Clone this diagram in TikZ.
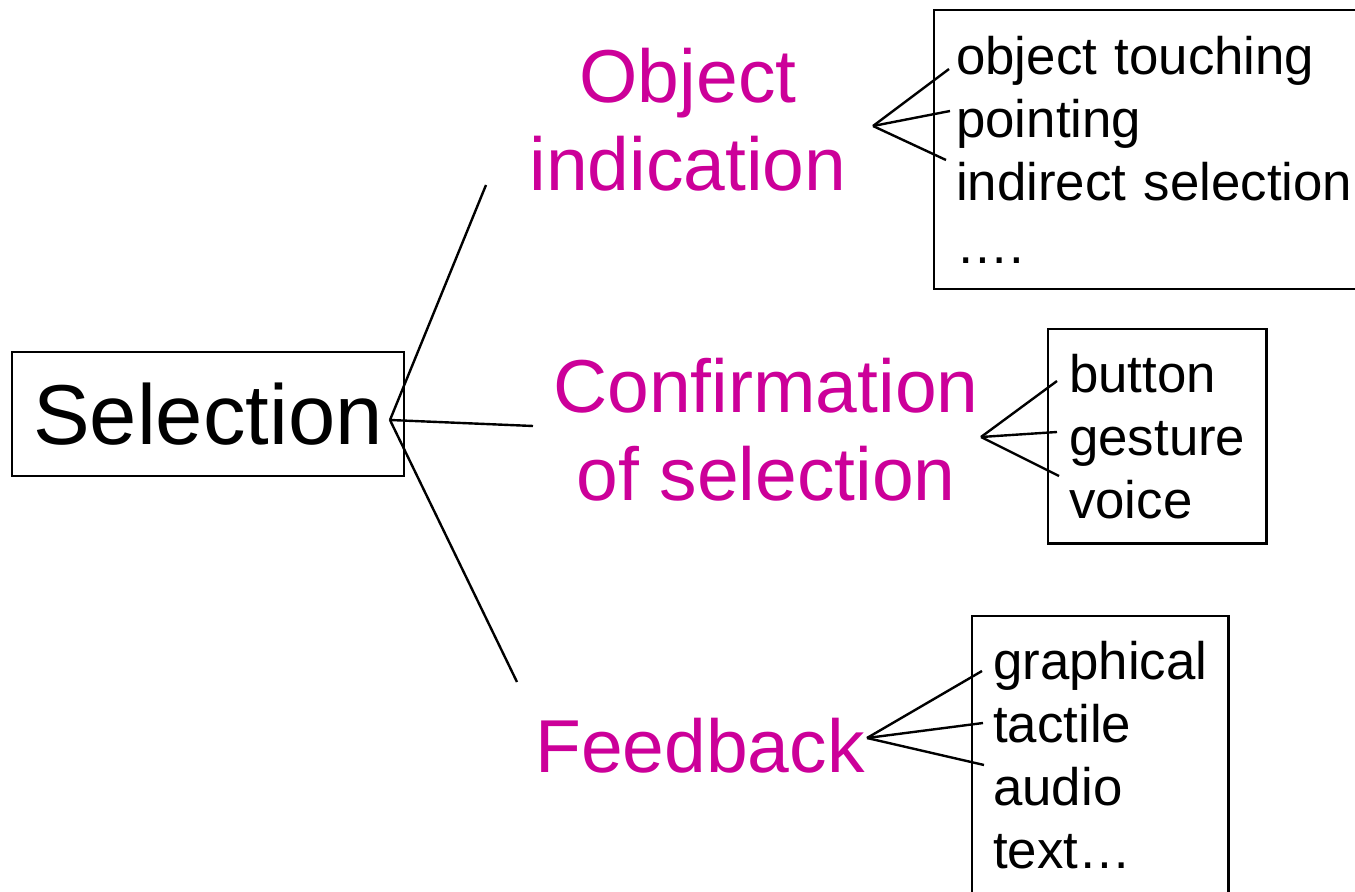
\documentclass[tikz,border=0pt]{standalone}
\usepackage{fontspec}
\setmainfont{Liberation Sans}
\usepackage{xcolor}
\usepackage{tikz}
\definecolor{headmag}{RGB}{204,0,153}

\begin{document}
\begin{tikzpicture}[
  x=0.5pt, y=-0.5pt,
  topbox/.style={draw, line width=1.2pt, minimum width=196pt, minimum height=62pt, inner sep=0pt, font=\fontsize{42.5}{50}\selectfont},
  branch/.style={text=headmag, align=center, inner sep=0pt, font=\fontsize{37.5}{44}\selectfont},
  listbox/.style={draw, line width=1.2pt, anchor=north west, align=left, inner xsep=10.5pt, inner ysep=12.4pt, font=\fontsize{26.4}{31.5}\selectfont},
  fan/.style={line width=1.2pt}
]
\useasboundingbox (0,0) rectangle (1355,892);
\clip (0,0) rectangle (1355,892);

\node[topbox] (sel) at (208,414) {Selection};

\node[branch] (objind) at (688,120) {Object\\indication};
\node[branch] (confirm) at (766,430) {Confirmation\\of selection};
\node[branch, anchor=base] (feedback) at (700,772) {Feedback};

\node[listbox, draw=none, text width=215pt] (objlist) at (934,10) {object touching\\pointing\\indirect selection\\….};
\draw[fan] (objlist.north east) -- (objlist.north west) -- (objlist.south west) -- (objlist.south east);
\node[listbox] (conflist) at (1047,328) {button\\gesture\\voice};
\node[listbox] (fblist) at (971,615) {graphical\\tactile\\audio\\text…};

% branches out of Selection
\coordinate (selfan) at (390,420);
\coordinate (objin) at (486,185);
\coordinate (confin) at (533,426);
\coordinate (fbin) at (517,682);
\draw[fan] (selfan) -- (objin);
\draw[fan] (selfan) -- (confin);
\draw[fan] (selfan) -- (fbin);

% fans into the lists
\coordinate (objfan) at (873,126);
\coordinate (objA) at (949,69);
\coordinate (objB) at (950,111);
\coordinate (objC) at (946,160);
\draw[fan] (objfan) -- (objA);
\draw[fan] (objfan) -- (objB);
\draw[fan] (objfan) -- (objC);

\coordinate (conffan) at (981,437);
\coordinate (confA) at (1057,381);
\coordinate (confB) at (1057,432);
\coordinate (confC) at (1059,476);
\draw[fan] (conffan) -- (confA);
\draw[fan] (conffan) -- (confB);
\draw[fan] (conffan) -- (confC);

\coordinate (fbfan) at (867,738);
\coordinate (fbA) at (982,671);
\coordinate (fbB) at (983,723);
\coordinate (fbC) at (984,765);
\draw[fan] (fbfan) -- (fbA);
\draw[fan] (fbfan) -- (fbB);
\draw[fan] (fbfan) -- (fbC);
\end{tikzpicture}
\end{document}
